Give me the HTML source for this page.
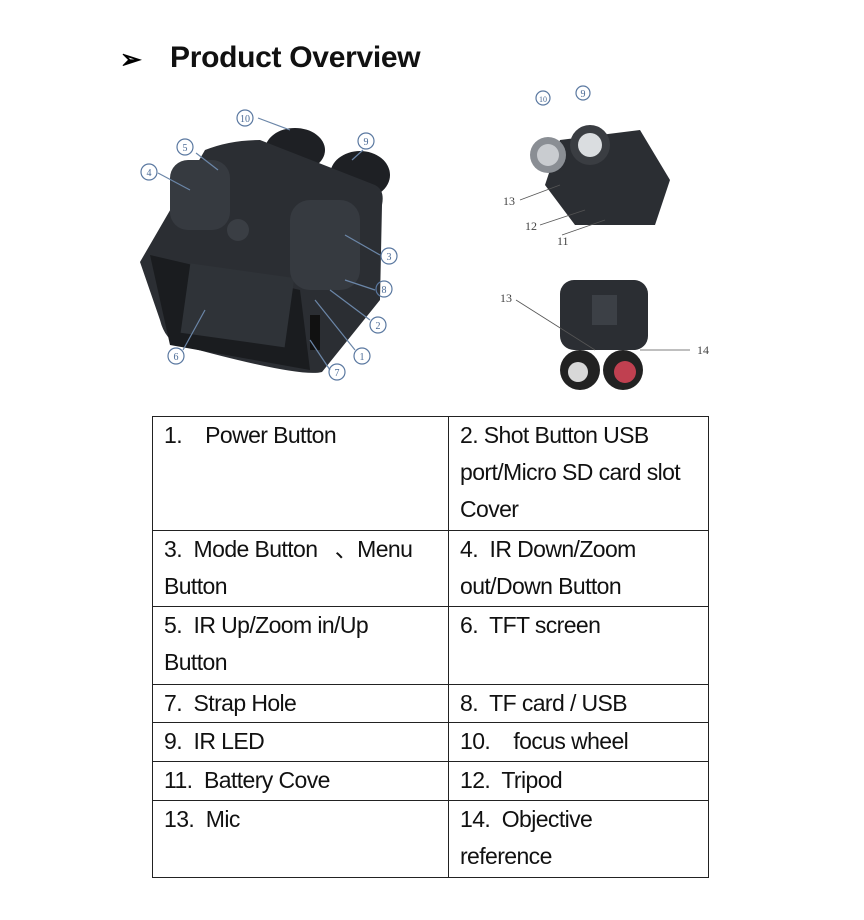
<!DOCTYPE html>
<html><head><meta charset="utf-8"><style>
body{margin:0;width:864px;height:920px;background:#fff;position:relative;overflow:hidden;font-family:"Liberation Sans",sans-serif}
.t{position:absolute;left:170px;top:41px;font-weight:bold;font-size:30px;color:#111;letter-spacing:-0.3px}
.a{position:absolute;left:120px;top:44px;font-size:26px;font-weight:bold}
table{position:absolute;left:152px;top:416px;border-collapse:collapse;width:557px;table-layout:fixed}
td{border:1.5px solid #222;vertical-align:top;padding:0 0 0 11px;font-size:23px;line-height:37px;color:#111;letter-spacing:-0.6px;box-sizing:border-box;overflow:hidden}
</style></head><body>
<div class="a">➢</div>
<div class="t">Product Overview</div>
<svg style="position:absolute;left:0;top:0" width="864" height="410">
<g fill="#2b2e33">
<ellipse cx="295" cy="150" rx="30" ry="22" fill="#1e2024"/>
<ellipse cx="360" cy="175" rx="30" ry="24" fill="#1e2024"/>
<path d="M205 150 Q230 140 260 140 L375 185 Q385 190 382 205 L380 300 L322 372 Q300 378 180 345 Q165 340 160 320 L140 262 Z"/>
<path d="M150 255 L300 290 L310 370 L170 345 Z" fill="#1a1c1f"/>
<rect x="185" y="270" width="105" height="70" fill="#2f3338" transform="rotate(8 235 305)"/>
<circle cx="238" cy="230" r="11" fill="#3a3e44"/>
<rect x="290" y="200" width="70" height="90" rx="20" fill="#363a40"/>
<rect x="170" y="160" width="60" height="70" rx="18" fill="#363a40"/>
<rect x="310" y="315" width="10" height="35" fill="#111"/>
</g>
<g stroke="#6b86a8" fill="none" stroke-width="1.2">
<line x1="258" y1="118" x2="290" y2="130"/><line x1="196" y1="153" x2="218" y2="170"/><line x1="158" y1="173" x2="190" y2="190"/>
<line x1="363" y1="150" x2="352" y2="160"/><line x1="380" y1="255" x2="345" y2="235"/><line x1="375" y1="290" x2="345" y2="280"/>
<line x1="370" y1="320" x2="330" y2="290"/><line x1="355" y1="350" x2="315" y2="300"/><line x1="330" y1="370" x2="310" y2="340"/>
<line x1="183" y1="350" x2="205" y2="310"/>
</g>
<g fill="none" stroke="#5a78a0" stroke-width="1.2">
<circle cx="245" cy="118" r="8"/><circle cx="185" cy="147" r="8"/><circle cx="149" cy="172" r="8"/><circle cx="366" cy="141" r="8"/>
<circle cx="389" cy="256" r="8"/><circle cx="384" cy="289" r="8"/><circle cx="378" cy="325" r="8"/><circle cx="362" cy="356" r="8"/>
<circle cx="337" cy="372" r="8"/><circle cx="176" cy="356" r="8"/>
<circle cx="543" cy="98" r="7"/><circle cx="583" cy="93" r="7"/>
</g>
<g font-size="10" fill="#4a6a95" text-anchor="middle" font-family="Liberation Serif">
<text x="245" y="122">10</text><text x="185" y="151">5</text><text x="149" y="176">4</text><text x="366" y="145">9</text>
<text x="389" y="260">3</text><text x="384" y="293">8</text><text x="378" y="329">2</text><text x="362" y="360">1</text>
<text x="337" y="376">7</text><text x="176" y="360">6</text><text x="543" y="102" font-size="8">10</text><text x="583" y="97">9</text>
</g>
<g fill="#2b2e33">
<path d="M560 140 L640 130 L670 180 L655 225 L575 225 L545 185 Z"/>
<circle cx="548" cy="155" r="18" fill="#8a8e94"/><circle cx="548" cy="155" r="11" fill="#c9ccd0"/>
<circle cx="590" cy="145" r="20" fill="#3a3d42"/><circle cx="590" cy="145" r="12" fill="#dadde0"/>
<rect x="560" y="280" width="88" height="70" rx="14"/>
<circle cx="580" cy="370" r="20" fill="#222"/><circle cx="623" cy="370" r="20" fill="#222"/>
<circle cx="578" cy="372" r="10" fill="#d8d8d8"/><circle cx="625" cy="372" r="11" fill="#c04050"/>
<rect x="592" y="295" width="25" height="30" fill="#3c4046"/>
</g>
<g stroke="#555" stroke-width="0.8"><line x1="520" y1="200" x2="560" y2="185"/><line x1="540" y1="225" x2="585" y2="210"/><line x1="562" y1="235" x2="605" y2="220"/><line x1="516" y1="300" x2="595" y2="350"/><line x1="640" y1="350" x2="690" y2="350"/></g>
<g font-size="12" fill="#444" font-family="Liberation Serif"><text x="503" y="205">13</text><text x="525" y="230">12</text><text x="557" y="245">11</text><text x="500" y="302">13</text><text x="697" y="354">14</text></g>
</svg>
<table>
<colgroup><col style="width:296px"><col></colgroup>
<tr><td style="height:114px">1.&nbsp;&nbsp;&nbsp; Power Button</td><td>2. Shot Button USB<br>port/Micro SD card slot<br>Cover</td></tr>
<tr><td style="height:76px">3.&nbsp; Mode Button &nbsp;&nbsp;、Menu<br>Button</td><td>4.&nbsp; IR Down/Zoom<br>out/Down Button</td></tr>
<tr><td style="height:78px">5.&nbsp; IR Up/Zoom in/Up<br>Button</td><td>6.&nbsp; TFT screen</td></tr>
<tr><td style="height:38px">7.&nbsp; Strap Hole</td><td>8.&nbsp; TF card / USB</td></tr>
<tr><td style="height:39px">9.&nbsp; IR LED</td><td>10.&nbsp;&nbsp;&nbsp; focus wheel</td></tr>
<tr><td style="height:39px">11.&nbsp; Battery Cove</td><td>12.&nbsp; Tripod</td></tr>
<tr><td style="height:77px">13.&nbsp; Mic</td><td>14.&nbsp; Objective<br>reference</td></tr>
</table>
</body></html>
